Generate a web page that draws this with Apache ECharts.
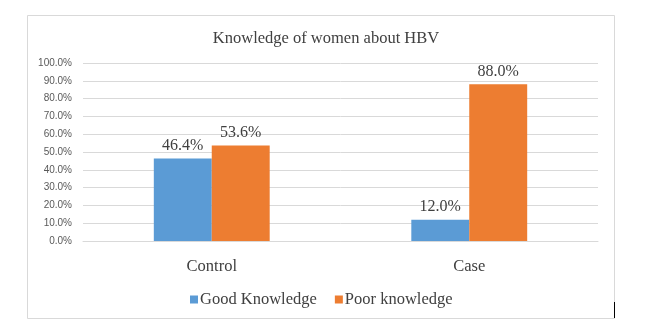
<!DOCTYPE html>
<html>
<head>
<meta charset="utf-8">
<style>
  html, body { margin: 0; padding: 0; background: #ffffff; }
  #chart { width: 652px; height: 329px; }
</style>
<script src="https://cdn.jsdelivr.net/npm/echarts@6/dist/echarts.min.js"></script>
</head>
<body>
<div id="chart"></div>
<script>
// Knowledge of women about HBV, by group
const categories = ['Control', 'Case'];
const goodKnowledge = [46.4, 12.0];
const poorKnowledge = [53.6, 88.0];
const seriesNames = ['Good Knowledge', 'Poor knowledge'];

const serif = '"Liberation Serif", "Times New Roman", serif';
const sans = '"Liberation Sans", Arial, sans-serif';

const chart = echarts.init(document.getElementById('chart'), null, { renderer: 'canvas' });

const labelStyle = {
  show: true,
  position: 'top',
  distance: 5,
  fontFamily: serif,
  fontSize: 16,
  color: '#404040',
  formatter: p => p.value.toFixed(1) + '%'
};

chart.setOption({
  animation: false,
  backgroundColor: '#ffffff',
  title: {
    text: 'Knowledge of women about HBV',
    left: 'center',
    top: 25,
    textStyle: { fontFamily: serif, fontSize: 16.5, fontWeight: 'normal', color: '#404040' }
  },
  legend: {
    data: seriesNames,
    top: 286,
    left: 185,
    itemWidth: 8,
    itemHeight: 8,
    itemGap: 18,
    icon: 'rect',
    textStyle: { fontFamily: serif, fontSize: 16.5, color: '#404040', padding: [0, 0, 0, -3] }
  },
  grid: { left: 83, right: 54, top: 63, bottom: 88, containLabel: false },
  xAxis: {
    type: 'category',
    data: categories,
    axisLine: { show: true, lineStyle: { color: '#d9d9d9' } },
    axisTick: { show: false },
    axisLabel: { fontFamily: serif, fontSize: 16.5, color: '#404040', margin: 17 }
  },
  yAxis: {
    type: 'value',
    min: 0,
    max: 100,
    interval: 10,
    axisLine: { show: false },
    axisTick: { show: false },
    splitLine: { lineStyle: { color: '#d9d9d9' } },
    axisLabel: {
      fontFamily: sans, fontSize: 10, color: '#595959', margin: 11,
      formatter: v => v.toFixed(1) + '%'
    }
  },
  series: [
    {
      name: seriesNames[0],
      type: 'bar',
      data: goodKnowledge,
      barGap: '0%',
      barCategoryGap: '55%',
      itemStyle: { color: '#5b9bd5' },
      label: labelStyle
    },
    {
      name: seriesNames[1],
      type: 'bar',
      data: poorKnowledge,
      itemStyle: { color: '#ed7d31' },
      label: labelStyle
    }
  ],
  graphic: [
    {
      type: 'rect',
      shape: { x: 27.5, y: 15.5, width: 587, height: 303 },
      style: { fill: 'none', stroke: '#d9d9d9', lineWidth: 1 },
      silent: true
    },
    {
      type: 'line',
      shape: { x1: 614.5, y1: 302, x2: 614.5, y2: 318 },
      style: { stroke: '#000000', lineWidth: 1 },
      silent: true
    }
  ]
});
</script>
</body>
</html>
